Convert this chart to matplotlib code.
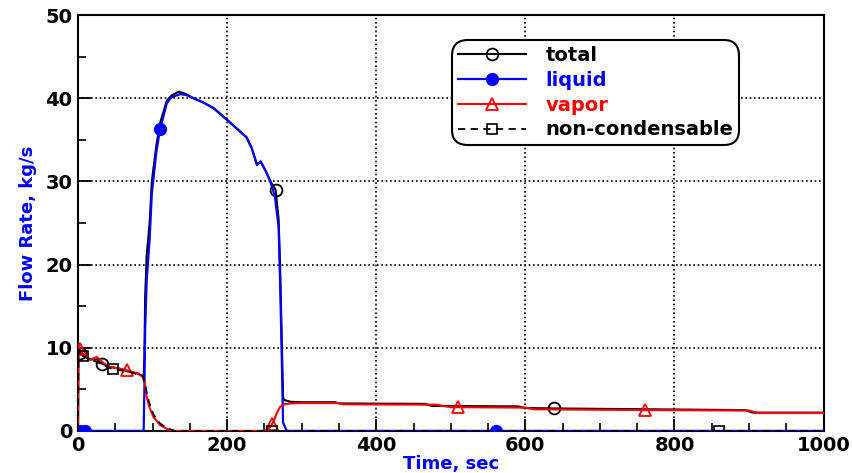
import matplotlib
matplotlib.use("Agg")
import matplotlib.pyplot as plt
from matplotlib.ticker import MultipleLocator
import numpy as np

# ---- data ----
t_tot = [0, 0.5, 3, 8, 16, 25, 32, 43, 55, 65, 80, 87, 88, 89, 90, 92, 96, 99, 105, 110, 119, 125, 135, 145,
         155, 168, 182, 200, 215, 226, 233, 240, 245, 252, 258, 265, 269, 271, 273, 275, 277, 285, 300, 345,
         350, 465, 475, 590, 600, 638, 895, 905, 1000]
v_tot = [0, 10.0, 9.4, 9.0, 8.6, 8.6, 8.1, 7.7, 7.5, 7.2, 6.9, 6.6, 6.4, 9.0, 16.0, 21.0, 25.0, 30.0, 34.3, 37.0,
         39.7, 40.3, 40.8, 40.5, 40.0, 39.5, 38.8, 37.4, 36.2, 35.3, 34.0, 32.0, 32.4, 31.2, 30.0, 29.0, 25.5,
         20.0, 12.0, 4.0, 3.7, 3.5, 3.45, 3.45, 3.3, 3.25, 3.0, 2.95, 2.75, 2.7, 2.5, 2.2, 2.2]
tot_marks = [3, 32, 265, 638]

t_liq = [0, 3, 10, 88, 89, 90, 92, 96, 99, 105, 110, 115, 119, 125, 137, 145, 155, 168, 182, 200, 215, 226,
         233, 240, 245, 252, 258, 264, 269, 271, 273, 275, 280, 560, 1000]
v_liq = [0, 0, 0, 0, 5, 12, 18, 23, 28.6, 33.5, 36.3, 38.0, 39.4, 40.1, 40.5, 40.4, 40.0, 39.5, 38.8, 37.4,
         36.2, 35.3, 34.0, 32.0, 32.4, 31.2, 30.0, 28.2, 24.6, 18.0, 10.0, 1.0, 0, 0, 0]
liq_marks = [3, 10, 110, 560]

t_vap = [0, 0.5, 3, 8, 16, 25, 35, 43, 55, 65, 80, 87, 90, 92, 96, 101, 110, 120, 128, 250, 253, 258, 260,
         262, 266, 271, 277, 285, 300, 350, 355, 480, 500, 510, 600, 612, 760, 900, 912, 1000]
v_vap = [0, 10.2, 9.8, 9.0, 8.5, 8.9, 8.1, 7.7, 7.5, 7.3, 6.9, 6.5, 5.5, 4.1, 2.8, 1.7, 0.7, 0.2, 0, 0, 0.1,
         0.5, 0.8, 1.1, 2.0, 2.9, 3.2, 3.3, 3.35, 3.35, 3.2, 3.15, 2.85, 2.85, 2.8, 2.6, 2.5, 2.45, 2.15, 2.15]
vap_marks = [3, 65, 260, 510, 760]

t_nc = [0, 0.5, 3, 6, 16, 25, 35, 47, 65, 87, 90, 95, 101, 110, 120, 130, 260, 860, 1000]
v_nc = [0, 9.8, 9.4, 9.0, 8.6, 8.3, 7.9, 7.4, 7.2, 6.6, 5.5, 3.5, 2.0, 0.9, 0.3, 0, 0, 0, 0]
nc_marks = [6, 47, 260, 860]

x_ticks = [0, 200, 400, 600, 800, 1000]
y_ticks = [0, 10, 20, 30, 40, 50]

fig = plt.figure(figsize=(8.52, 4.73), dpi=100)
ax = fig.add_axes([0.0916, 0.089, 0.875, 0.879])

def idx(ts, marks):
    return [ts.index(m) for m in marks]

ax.plot(t_tot, v_tot, color='black', lw=1.5, marker='o', ms=8.5, mfc='none', mew=1.3,
        markevery=idx(t_tot, tot_marks), label='total', zorder=3)
ax.plot(t_liq, v_liq, color='#0000ff', lw=1.6, marker='o', ms=8.5, mfc='#0000ff', mec='#0000ff',
        markevery=idx(t_liq, liq_marks), label='liquid', zorder=4)
ax.plot(t_vap, v_vap, color='#ff0000', lw=1.5, marker='^', ms=8.5, mfc='none', mew=1.3,
        markevery=idx(t_vap, vap_marks), label='vapor', zorder=5)
ax.plot(t_nc, v_nc, color='black', lw=1.3, ls=(0, (4, 3)), marker='s', ms=7, mfc='none', mew=1.2,
        markevery=idx(t_nc, nc_marks), label='non-condensable', zorder=6)

ax.set_xlim(0, 1000)
ax.set_ylim(0, 50)
ax.set_xticks(x_ticks)
ax.set_yticks(y_ticks)
ax.xaxis.set_minor_locator(MultipleLocator(50))
ax.yaxis.set_minor_locator(MultipleLocator(5))
ax.tick_params(which='major', direction='in', length=9, width=1.3, top=False, right=False,
               labelsize=14, pad=4)
ax.tick_params(which='minor', direction='in', length=6, width=1.2, top=False, right=False)
for lab in ax.get_xticklabels() + ax.get_yticklabels():
    lab.set_fontweight('bold')
ax.grid(True, which='major', color='black', ls=(0, (1, 1.6)), lw=1.2)
for s in ax.spines.values():
    s.set_color('black')
    s.set_linewidth(1.5)

ax.set_xlabel('Time, sec', color='#0000ff', fontsize=13, fontweight='bold', labelpad=0)
ax.set_ylabel('Flow Rate, kg/s', color='#0000ff', fontsize=13, fontweight='bold', labelpad=6)

leg = ax.legend(loc='upper left', bbox_to_anchor=(0.502, 0.94), frameon=True,
                fancybox=True, edgecolor='black', framealpha=1, handlelength=3.5, borderpad=0.3,
                labelspacing=0.3, handletextpad=1.0, borderaxespad=0,
                prop={'weight': 'bold', 'size': 14})
leg.get_frame().set_linewidth(1.5)
leg.get_frame().set_boxstyle('round', pad=0.0, rounding_size=0.8)
for txt, col in zip(leg.get_texts(), ['black', '#0000ff', '#ff0000', 'black']):
    txt.set_color(col)

fig.savefig('out.png', dpi=100)
